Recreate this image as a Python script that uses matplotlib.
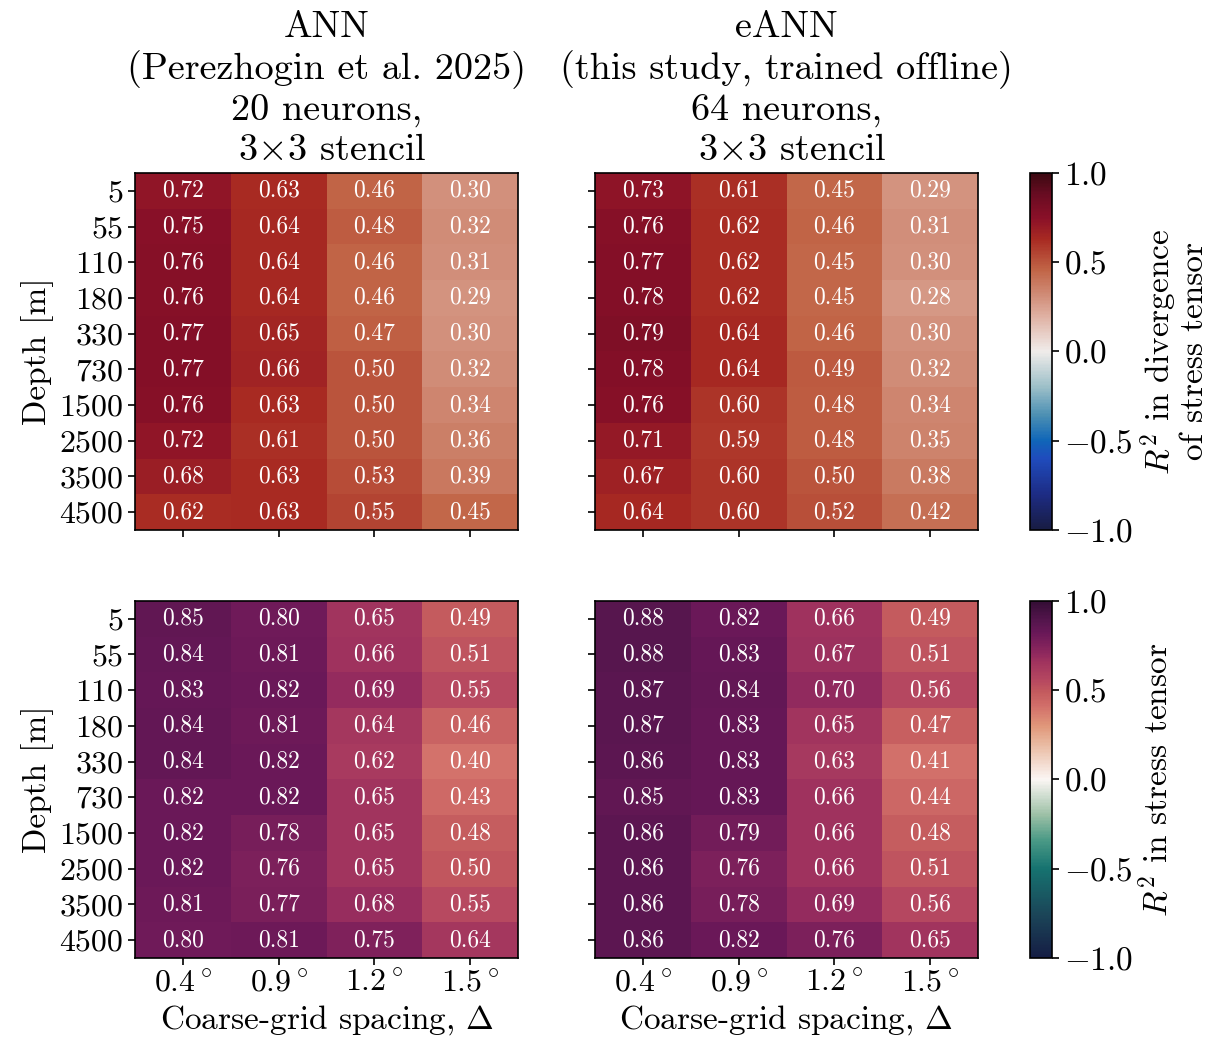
import numpy as np
import matplotlib
matplotlib.use("Agg")
import matplotlib.pyplot as plt
from matplotlib.colors import LinearSegmentedColormap

plt.rcParams['font.family'] = ['cmr10', 'DejaVu Serif']
plt.rcParams['mathtext.fontset'] = 'cm'
plt.rcParams['axes.formatter.use_mathtext'] = True
plt.rcParams['axes.unicode_minus'] = True

depths = [5, 55, 110, 180, 330, 730, 1500, 2500, 3500, 4500]
spacings = ['0.4$^\\circ$', '0.9$^\\circ$', '1.2$^\\circ$', '1.5$^\\circ$']

# R^2 in divergence of stress tensor
ann_div = [
    [0.72, 0.63, 0.46, 0.30],
    [0.75, 0.64, 0.48, 0.32],
    [0.76, 0.64, 0.46, 0.31],
    [0.76, 0.64, 0.46, 0.29],
    [0.77, 0.65, 0.47, 0.30],
    [0.77, 0.66, 0.50, 0.32],
    [0.76, 0.63, 0.50, 0.34],
    [0.72, 0.61, 0.50, 0.36],
    [0.68, 0.63, 0.53, 0.39],
    [0.62, 0.63, 0.55, 0.45],
]
eann_div = [
    [0.73, 0.61, 0.45, 0.29],
    [0.76, 0.62, 0.46, 0.31],
    [0.77, 0.62, 0.45, 0.30],
    [0.78, 0.62, 0.45, 0.28],
    [0.79, 0.64, 0.46, 0.30],
    [0.78, 0.64, 0.49, 0.32],
    [0.76, 0.60, 0.48, 0.34],
    [0.71, 0.59, 0.48, 0.35],
    [0.67, 0.60, 0.50, 0.38],
    [0.64, 0.60, 0.52, 0.42],
]
# R^2 in stress tensor
ann_stress = [
    [0.85, 0.80, 0.65, 0.49],
    [0.84, 0.81, 0.66, 0.51],
    [0.83, 0.82, 0.69, 0.55],
    [0.84, 0.81, 0.64, 0.46],
    [0.84, 0.82, 0.62, 0.40],
    [0.82, 0.82, 0.65, 0.43],
    [0.82, 0.78, 0.65, 0.48],
    [0.82, 0.76, 0.65, 0.50],
    [0.81, 0.77, 0.68, 0.55],
    [0.80, 0.81, 0.75, 0.64],
]
eann_stress = [
    [0.88, 0.82, 0.66, 0.49],
    [0.88, 0.83, 0.67, 0.51],
    [0.87, 0.84, 0.70, 0.56],
    [0.87, 0.83, 0.65, 0.47],
    [0.86, 0.83, 0.63, 0.41],
    [0.85, 0.83, 0.66, 0.44],
    [0.86, 0.79, 0.66, 0.48],
    [0.86, 0.76, 0.66, 0.51],
    [0.86, 0.78, 0.69, 0.56],
    [0.86, 0.82, 0.76, 0.65],
]

titles = [
    'ANN\n(Perezhogin et al. 2025)\n20 neurons,\n 3$\\times$3 stencil',
    'eANN\n(this study, trained offline)\n64 neurons,\n 3$\\times$3 stencil',
]

# diverging maps in the style of cmocean balance / curl
balance = LinearSegmentedColormap.from_list('balance', [
    (0.00, '#181c43'), (0.10, '#1d2c85'), (0.20, '#1f4cbd'), (0.25, '#1066b8'),
    (0.32, '#4b8fb3'), (0.40, '#9cbfc8'), (0.50, '#f0ecea'), (0.60, '#dfb0a2'),
    (0.65, '#d2917d'), (0.73, '#c16446'), (0.815, '#a82a22'), (0.875, '#8a1028'),
    (0.94, '#6a0c22'), (1.00, '#3c0912')])
curl = LinearSegmentedColormap.from_list('curl', [
    (0.00, '#151d44'), (0.12, '#1b4558'), (0.25, '#167370'), (0.33, '#4b9a86'),
    (0.40, '#9cc0a6'), (0.50, '#fbf6f4'), (0.60, '#e9b9a0'), (0.65, '#e0977a'),
    (0.705, '#d2706a'), (0.745, '#c45b5e'), (0.78, '#b54760'), (0.83, '#a0335e'),
    (0.85, '#922a5e'), (0.91, '#6a1858'), (0.94, '#58164f'), (1.00, '#340d35')])

fig = plt.figure(figsize=(12.23, 10.52), dpi=100)

lefts = [0.1104, 0.4865]
bottoms = [0.4962, 0.0894]
w, h = 0.3132, 0.3394

panels = [[ann_div, eann_div], [ann_stress, eann_stress]]
cmaps = [balance, curl]
cb_labels = ['$R^2$ in divergence\nof stress tensor', '$R^2$ in stress tensor']

xe = np.arange(len(spacings) + 1)
ye = np.arange(len(depths) + 1)

for r in range(2):
    for c in range(2):
        data = np.array(panels[r][c])
        ax = fig.add_axes([lefts[c], bottoms[r], w, h])
        mesh = ax.pcolormesh(xe, ye, data, cmap=cmaps[r], vmin=-1, vmax=1)
        for i in range(data.shape[0]):
            for j in range(data.shape[1]):
                ax.text(j + 0.5, i + 0.5, f'{data[i, j]:.2f}', ha='center', va='center',
                        color='white', fontsize=17)
        ax.set_xlim(0, len(spacings))
        ax.set_ylim(len(depths), 0)
        ax.set_xticks(np.arange(len(spacings)) + 0.5)
        ax.set_yticks(np.arange(len(depths)) + 0.5)
        ax.tick_params(labelsize=23, length=5, width=1.2)
        if r == 1:
            ax.set_xticklabels(spacings)
            ax.set_xlabel('Coarse-grid spacing, $\\Delta$', fontsize=24)
        else:
            ax.set_xticklabels([])
            ax.set_title(titles[c], fontsize=27.5, linespacing=1.22, pad=9)
        if c == 0:
            ax.set_yticklabels([str(d) for d in depths])
            ax.set_ylabel('Depth [m]', fontsize=24)
        else:
            ax.set_yticklabels([])
        for s in ax.spines.values():
            s.set_linewidth(1.2)

    cax = fig.add_axes([0.8422, bottoms[r], 0.018, h])
    cb = fig.colorbar(mesh, cax=cax, ticks=[-1, -0.5, 0, 0.5, 1])
    cb.ax.set_yticklabels(['$-1.0$', '$-0.5$', '$0.0$', '$0.5$', '$1.0$'])
    cb.ax.tick_params(labelsize=24, length=5, width=1.2)
    cb.set_label(cb_labels[r], fontsize=24, linespacing=1.0)
    cb.outline.set_linewidth(1.2)

fig.savefig('out.png', dpi=100)
